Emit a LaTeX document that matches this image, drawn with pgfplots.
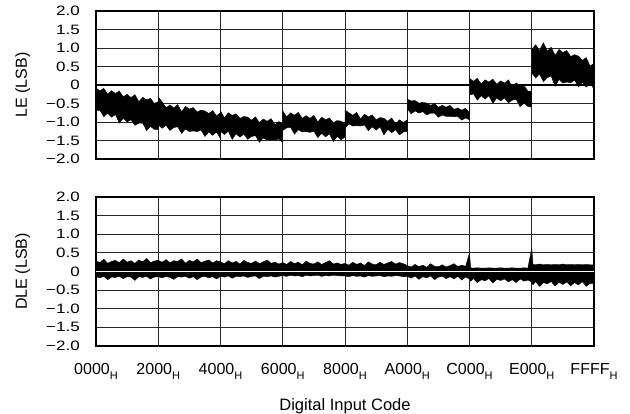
\documentclass[border=0pt]{standalone}
\usepackage{fontspec}
\setmainfont{Liberation Sans}
\usepackage{pgfplots}
\usepackage{pgfplotstable}
\pgfplotsset{compat=1.18}
\usepgfplotslibrary{fillbetween}

\newcommand{\hx}[1]{#1\raisebox{-5pt}{\fontsize{11}{11}\selectfont H}}
\newcommand{\yl}[1]{\scalebox{1}[0.8]{#1}}

% LE: upper and lower edge of the noise band
\pgfplotstableread{
x u l
0 -0.08 -0.70
512 -0.16 -0.68
1024 -0.09 -0.86
1536 -0.25 -0.76
2048 -0.15 -0.87
2560 -0.23 -0.80
3072 -0.16 -1.03
3584 -0.32 -0.90
4096 -0.25 -1.00
4608 -0.34 -0.94
5120 -0.26 -1.09
5632 -0.45 -1.03
6144 -0.33 -1.03
6656 -0.40 -1.23
7168 -0.36 -1.12
7680 -0.50 -1.20
8192 -0.45 -1.20
8192 -0.32 -1.08
8704 -0.46 -1.17
9216 -0.61 -1.09
9728 -0.54 -1.23
10240 -0.62 -1.15
10752 -0.53 -1.13
11264 -0.72 -1.31
11776 -0.58 -1.19
12288 -0.65 -1.26
12800 -0.61 -1.24
13312 -0.73 -1.26
13824 -0.68 -1.22
14336 -0.70 -1.39
14848 -0.77 -1.27
15360 -0.69 -1.36
15872 -0.84 -1.27
16384 -0.74 -1.45
16384 -0.70 -1.25
16896 -0.89 -1.34
17408 -0.75 -1.25
17920 -0.82 -1.47
18432 -0.78 -1.32
18944 -0.90 -1.41
19456 -0.85 -1.33
19968 -0.87 -1.47
20480 -0.95 -1.39
20992 -0.86 -1.37
21504 -1.02 -1.55
22016 -0.92 -1.43
22528 -0.98 -1.49
23040 -0.91 -1.48
23552 -1.07 -1.49
24064 -0.99 -1.46
24576 -1.05 -1.55
24576 -0.70 -1.23
25088 -0.86 -1.16
25600 -0.75 -1.14
26112 -0.82 -1.33
26624 -0.74 -1.21
27136 -0.90 -1.27
27648 -0.83 -1.26
28160 -0.90 -1.28
28672 -0.82 -1.25
29184 -1.00 -1.42
29696 -0.87 -1.31
30208 -0.94 -1.40
30720 -0.89 -1.32
31232 -1.02 -1.53
31744 -0.96 -1.39
32256 -0.98 -1.48
32768 -1.06 -1.41
32768 -0.68 -1.17
33280 -0.75 -1.05
33792 -0.82 -1.11
34304 -0.74 -1.10
34816 -0.92 -1.11
35328 -0.79 -1.08
35840 -0.86 -1.24
36352 -0.81 -1.13
36864 -0.94 -1.22
37376 -0.88 -1.13
37888 -0.90 -1.35
38400 -0.98 -1.20
38912 -0.89 -1.29
39424 -1.05 -1.21
39936 -0.94 -1.35
40448 -1.01 -1.27
40960 -0.94 -1.25
40960 -0.38 -0.64
41472 -0.43 -0.78
41984 -0.42 -0.70
42496 -0.49 -0.76
43008 -0.47 -0.72
43520 -0.49 -0.81
44032 -0.55 -0.76
44544 -0.50 -0.76
45056 -0.60 -0.87
45568 -0.55 -0.81
46080 -0.60 -0.85
46592 -0.55 -0.85
47104 -0.66 -0.86
47616 -0.62 -0.85
48128 -0.68 -0.95
48640 -0.63 -0.89
49152 -0.75 -0.94
49152 0.18 -0.27
49664 0.10 -0.24
50176 0.18 -0.41
50688 0.03 -0.29
51200 0.14 -0.38
51712 0.08 -0.29
52224 0.16 -0.50
52736 0.02 -0.35
53248 0.11 -0.43
53760 0.05 -0.35
54272 0.14 -0.48
54784 -0.06 -0.41
55296 0.06 -0.39
55808 -0.02 -0.59
56320 -0.01 -0.49
56832 -0.17 -0.58
57344 -0.16 -0.60
57344 0.96 0.33
57856 1.09 0.19
58368 0.93 0.30
58880 1.14 0.09
59392 0.92 0.20
59904 1.02 0.24
60416 0.80 -0.04
60928 0.96 0.15
61440 0.88 0.05
61952 0.93 0.08
62464 0.77 0.06
62976 0.82 0.13
63488 0.78 -0.05
64000 0.67 0.07
64512 0.74 -0.06
65024 0.51 0.06
65535 0.59 -0.12
}\letable

% DLE: upper and lower edge of the noise band
\pgfplotstableread{
x u l
0 0.28 -0.14
512 0.24 -0.17
1024 0.33 -0.13
1536 0.22 -0.22
2048 0.27 -0.15
2560 0.30 -0.16
3072 0.23 -0.13
3584 0.34 -0.19
4096 0.25 -0.14
4608 0.29 -0.15
5120 0.22 -0.24
5632 0.31 -0.14
6144 0.26 -0.16
6656 0.35 -0.13
7168 0.24 -0.20
7680 0.28 -0.15
8192 0.30 -0.14
8704 0.25 -0.17
9216 0.32 -0.13
9728 0.23 -0.16
10240 0.29 -0.21
10752 0.27 -0.14
11264 0.34 -0.15
11776 0.22 -0.13
12288 0.30 -0.18
12800 0.26 -0.14
13312 0.33 -0.22
13824 0.24 -0.15
14336 0.28 -0.13
14848 0.31 -0.17
15360 0.23 -0.14
15872 0.29 -0.20
16384 0.26 -0.13
16896 0.21 -0.15
17408 0.29 -0.12
17920 0.23 -0.18
18432 0.27 -0.13
18944 0.20 -0.14
19456 0.30 -0.12
19968 0.24 -0.16
20480 0.22 -0.13
20992 0.28 -0.12
21504 0.21 -0.19
22016 0.26 -0.13
22528 0.31 -0.14
23040 0.22 -0.12
23552 0.25 -0.15
24064 0.20 -0.13
24576 0.24 -0.11
25088 0.19 -0.13
25600 0.27 -0.10
26112 0.21 -0.12
26624 0.25 -0.11
27136 0.18 -0.14
27648 0.28 -0.10
28160 0.22 -0.12
28672 0.20 -0.11
29184 0.26 -0.10
29696 0.19 -0.13
30208 0.24 -0.11
30720 0.29 -0.12
31232 0.20 -0.10
31744 0.23 -0.11
32256 0.19 -0.12
32768 0.22 -0.12
33280 0.17 -0.14
33792 0.25 -0.11
34304 0.19 -0.13
34816 0.23 -0.12
35328 0.16 -0.15
35840 0.26 -0.11
36352 0.20 -0.13
36864 0.18 -0.12
37376 0.25 -0.11
37888 0.19 -0.14
38400 0.23 -0.12
38912 0.27 -0.13
39424 0.20 -0.11
39936 0.24 -0.12
40448 0.21 -0.14
40960 0.16 -0.13
41472 0.12 -0.18
41984 0.19 -0.12
42496 0.13 -0.21
43008 0.17 -0.14
43520 0.11 -0.17
44032 0.21 -0.12
44544 0.14 -0.22
45056 0.13 -0.15
45568 0.18 -0.13
46080 0.12 -0.19
46592 0.16 -0.14
47104 0.21 -0.20
47616 0.13 -0.13
48128 0.17 -0.23
48640 0.14 -0.15
49152 0.50 -0.20
49300 0.10 -0.26
49664 0.09 -0.19
50176 0.10 -0.30
50688 0.09 -0.22
51200 0.09 -0.25
51712 0.10 -0.19
52224 0.09 -0.31
52736 0.09 -0.21
53248 0.10 -0.24
53760 0.09 -0.20
54272 0.09 -0.28
54784 0.10 -0.22
55296 0.09 -0.30
55808 0.09 -0.20
56320 0.10 -0.26
56832 0.09 -0.23
57344 0.63 -0.28
57500 0.19 -0.36
57856 0.18 -0.27
58368 0.20 -0.40
58880 0.18 -0.30
59392 0.19 -0.33
59904 0.18 -0.27
60416 0.19 -0.39
60928 0.18 -0.29
61440 0.20 -0.35
61952 0.18 -0.28
62464 0.19 -0.38
62976 0.18 -0.30
63488 0.19 -0.36
64000 0.18 -0.27
64512 0.19 -0.40
65024 0.18 -0.32
65535 0.18 -0.32
}\dletable

\pgfplotsset{
  dacplot/.style={
    scale only axis, width=498pt,
    xmin=0, xmax=65535, ymin=-2, ymax=2,
    xtick={0,8192,16384,24576,32768,40960,49152,57344,65535},
    ytick={-2,-1.5,-1,-0.5,0,0.5,1,1.5,2},
    yticklabels={\yl{−2.0},\yl{−1.5},\yl{−1.0},\yl{−0.5},\yl{0},\yl{0.5},\yl{1.0},\yl{1.5},\yl{2.0}},
    grid=major, grid style={black!85, line width=0.9pt},
    major tick length=0pt,
    axis line style={line width=2pt},
    tick label style={font=\fontsize{16}{16}\selectfont},
    yticklabel style={anchor=east, inner sep=0pt, xshift=-16pt,
      font=\fontsize{17}{17}\selectfont},
    xticklabel style={anchor=north, inner sep=0pt, yshift=-17pt},
    ylabel style={at={(axis description cs:-0.147,0.5)}, anchor=center,
      font=\fontsize{16}{16}\selectfont},
    scaled x ticks=false,
    noise/.style={black, line width=0.4pt},
  }
}

\begin{document}
\begin{tikzpicture}
\path (0,0) rectangle (630pt,414pt);

\begin{axis}[dacplot, at={(96pt,255pt)}, anchor=south west, height=148pt,
  xticklabels={}, ylabel={LE (LSB)},
  extra y ticks={0}, extra y tick labels={},
  extra y tick style={grid style={black, line width=1.8pt}}]
  \addplot[name path=U, noise] table[x=x,y=u] {\letable};
  \addplot[name path=L, noise] table[x=x,y=l] {\letable};
  \addplot[black] fill between[of=U and L];
\end{axis}

\begin{axis}[dacplot, at={(96pt,68pt)}, anchor=south west, height=149pt,
  xticklabels={\hx{0000},\hx{2000},\hx{4000},\hx{6000},\hx{8000},\hx{A000},\hx{C000},\hx{E000},\hx{FFFF}},
  ylabel={DLE (LSB)},
  xlabel={Digital Input Code},
  xlabel style={at={(axis description cs:0.5,0)}, anchor=north, inner sep=0pt,
    yshift=-52pt, font=\fontsize{16.5}{16.5}\selectfont}]
  \addplot[name path=DU, noise] table[x=x,y=u] {\dletable};
  \addplot[name path=DL, noise] table[x=x,y=l] {\dletable};
  \addplot[black] fill between[of=DU and DL];
  \addplot[white, line width=0.8pt] coordinates {(0,0) (65535,0)};
\end{axis}
\end{tikzpicture}
\end{document}
